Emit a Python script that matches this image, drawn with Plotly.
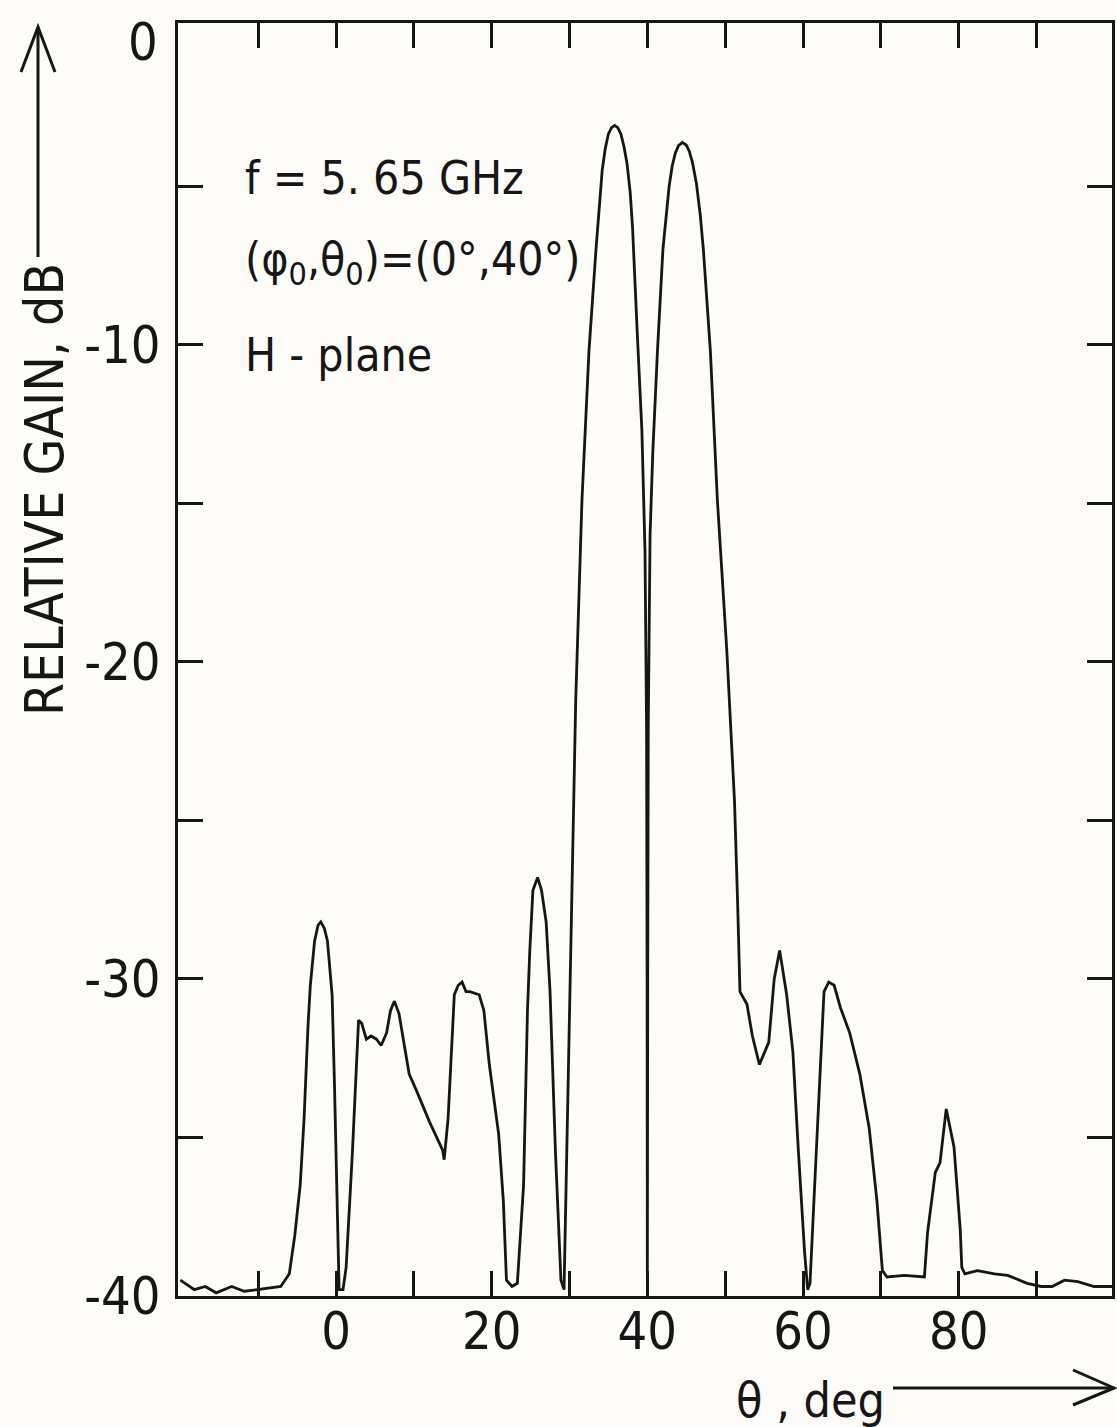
import plotly.graph_objects as go

# Measured H-plane pattern, f = 5.65 GHz, beam steered to (phi0, theta0) = (0 deg, 40 deg)
theta_deg = [
    -20.0, -18.2, -16.8, -15.4, -13.4, -11.8, -10.1, -8.5, -7.1, -6.0,
    -5.3, -4.6, -4.1, -3.6, -3.3, -2.75, -2.3, -1.95, -1.5, -1.1,
    -0.7, -0.5, -0.2, 0.2, 0.4, 0.9, 1.3, 2.1, 2.9, 3.3,
    3.9, 4.5, 5.2, 5.8, 6.5, 7.0, 7.5, 8.1, 8.8, 9.4,
    10.3, 12.0, 13.7, 13.9, 14.4, 15.2, 15.7, 16.2, 16.7, 17.2,
    18.4, 19.0, 19.7, 20.9, 21.5, 21.9, 22.6, 23.3, 24.1, 24.6,
    24.9, 25.3, 25.9, 26.4, 27.0, 27.5, 28.2, 28.9, 29.3, 29.8,
    30.3, 30.8, 31.6, 32.5, 33.4, 33.8, 34.2, 34.6, 35.0, 35.4,
    35.8, 36.2, 36.6, 37.0, 37.4, 37.8, 38.1, 38.7, 39.3, 39.7,
    39.9, 39.97, 40.0, 40.05, 40.12, 40.35, 40.7, 41.3, 42.0, 42.4,
    42.8, 43.2, 43.6, 44.0, 44.5, 45.0, 45.4, 45.8, 46.3, 46.8,
    47.2, 48.1, 49.0, 50.2, 51.2, 51.6, 51.9, 52.8, 53.5, 54.4,
    55.6, 56.3, 57.0, 57.9, 58.7, 59.4, 60.2, 60.6, 60.9, 61.5,
    62.0, 62.7, 63.3, 64.0, 64.8, 66.0, 67.3, 68.5, 69.5, 70.2,
    70.8, 73.0, 75.6, 76.0, 77.0, 77.6, 78.4, 79.4, 80.2, 80.4,
    80.8, 82.4, 84.6, 86.3, 88.8, 90.6, 92.0, 93.6, 95.3, 97.4,
    99.7,
]
gain_db = [
    -39.5, -39.8, -39.7, -39.9, -39.7, -39.85, -39.8, -39.75, -39.7, -39.3,
    -38.1, -36.5, -34.4, -31.5, -30.2, -28.8, -28.3, -28.2, -28.4, -28.8,
    -29.8, -30.5, -33.3, -37.6, -39.8, -39.8, -39.1, -35.5, -31.3, -31.4,
    -31.9, -31.8, -31.9, -32.1, -31.7, -31.0, -30.7, -31.1, -32.2, -33.0,
    -33.5, -34.5, -35.4, -35.7, -34.4, -30.5, -30.2, -30.1, -30.4, -30.4,
    -30.5, -31.0, -32.7, -34.9, -37.0, -39.5, -39.7, -39.6, -36.5, -31.0,
    -29.1, -27.2, -26.8, -27.2, -28.2, -30.4, -35.5, -39.5, -39.8, -33.9,
    -27.6, -21.2, -14.9, -10.2, -7.0, -5.6, -4.5, -3.8, -3.35, -3.15,
    -3.08, -3.15, -3.35, -3.75, -4.3, -5.2, -6.3, -9.6, -12.7, -16.5,
    -22.0, -30.0, -39.3, -30.0, -22.0, -16.0, -13.4, -10.2, -7.0, -5.9,
    -5.0, -4.35, -3.95, -3.72, -3.62, -3.7, -3.9, -4.25, -4.9, -5.9,
    -7.0, -10.2, -14.9, -19.6, -24.4, -27.6, -30.4, -30.8, -31.8, -32.7,
    -32.0, -30.0, -29.1, -30.5, -32.3, -35.4, -38.6, -39.8, -39.6, -36.5,
    -33.8, -30.4, -30.1, -30.2, -30.9, -31.7, -33.0, -34.7, -37.0, -39.2,
    -39.4, -39.35, -39.4, -38.0, -36.1, -35.8, -34.1, -35.3, -37.9, -39.1,
    -39.3, -39.2, -39.3, -39.35, -39.6, -39.7, -39.7, -39.5, -39.55, -39.7,
    -39.7,
]

x_tickvals = [0, 20, 40, 60, 80]
x_ticktext = ["0", "20", "40", "60", "80"]
x_minor_tickvals = [-10, 10, 30, 50, 70, 90]
y_tickvals = [-40, -30, -20, -10]
y_ticktext = ["-40", "-30", "-20", "-10"]
y_minor_tickvals = [-35, -25, -15, -5]
y_top_label = "0"

INK = "#161616"
PAPER = "#fdfcf8"
FONT = "DejaVu Sans Condensed, Liberation Sans Narrow, DejaVu Sans, sans-serif"

W, H = 1117, 1427
L, R, T, B = 178, 5, 23, 131
PW, PH = W - L - R, H - T - B


def px(x):
    return (x - L) / PW


def py(y):
    return (H - B - y) / PH


fig = go.Figure()
fig.add_trace(go.Scatter(
    x=theta_deg, y=gain_db, mode="lines",
    line=dict(color=INK, width=2.8),
    hoverinfo="skip", showlegend=False,
))

tick_style = dict(ticks="inside", ticklen=25, tickwidth=3, tickcolor=INK)
axis_common = dict(
    showline=True, linecolor=INK, linewidth=3, mirror="ticks",
    showgrid=False, zeroline=False, **tick_style,
)

fig.update_xaxes(
    range=[-20.3, 99.7], tickmode="array",
    tickvals=x_tickvals, ticktext=x_ticktext,
    minor=dict(tickmode="array", tickvals=x_minor_tickvals, showgrid=False, **tick_style),
    ticklabelstandoff=-12, tickfont=dict(family=FONT, size=52, color=INK),
    **axis_common,
)
fig.update_yaxes(
    range=[-40, 0.15], tickmode="array",
    tickvals=y_tickvals, ticktext=y_ticktext,
    minor=dict(tickmode="array", tickvals=y_minor_tickvals, showgrid=False, **tick_style),
    ticklabelstandoff=4, tickfont=dict(family=FONT, size=52, color=INK),
    **axis_common,
)

# top label of the gain axis
fig.add_annotation(
    text=y_top_label, xref="paper", yref="paper", x=px(160), y=py(42),
    xanchor="right", yanchor="middle", showarrow=False,
    font=dict(family=FONT, size=52, color=INK),
)

notes = [
    ("f = 5. 65 GHz", 178),
    ("(φ<sub>0</sub>,θ<sub>0</sub>)=(0°,40°)", 262),
    ("H - plane", 355),
]
for text, yc in notes:
    fig.add_annotation(
        text=text, xref="paper", yref="paper", x=px(243), y=py(yc),
        xanchor="left", yanchor="middle", showarrow=False,
        font=dict(family=FONT, size=46, color=INK),
    )

# axis titles
fig.add_annotation(
    text="RELATIVE GAIN, dB", xref="paper", yref="paper",
    x=px(44), y=py(490), textangle=-90, xanchor="center", yanchor="middle",
    showarrow=False, font=dict(family=FONT, size=53, color=INK),
)
fig.add_annotation(
    text="θ , deg", xref="paper", yref="paper",
    x=px(810), y=py(1400), xanchor="center", yanchor="middle",
    showarrow=False, font=dict(family=FONT, size=48, color=INK),
)

# direction arrows next to the axis titles
arrow_line = dict(color=INK, width=3)
shapes = [
    dict(type="line", xref="paper", yref="paper",
         x0=px(38), y0=py(257), x1=px(38), y1=py(27), line=arrow_line),
    dict(type="path", xref="paper", yref="paper",
         path=f"M {px(21)},{py(72)} L {px(38)},{py(27)} L {px(55)},{py(72)}",
         line=arrow_line),
    dict(type="line", xref="paper", yref="paper",
         x0=px(893), y0=py(1388), x1=px(1114), y1=py(1388), line=arrow_line),
    dict(type="path", xref="paper", yref="paper",
         path=f"M {px(1073)},{py(1370)} L {px(1114)},{py(1388)} L {px(1073)},{py(1405)}",
         line=arrow_line),
]

fig.update_layout(
    width=W, height=H,
    margin=dict(l=L, r=R, t=T, b=B, autoexpand=False),
    paper_bgcolor=PAPER, plot_bgcolor=PAPER,
    shapes=shapes, showlegend=False,
)

fig.write_html("out.html", config={"displayModeBar": False})
